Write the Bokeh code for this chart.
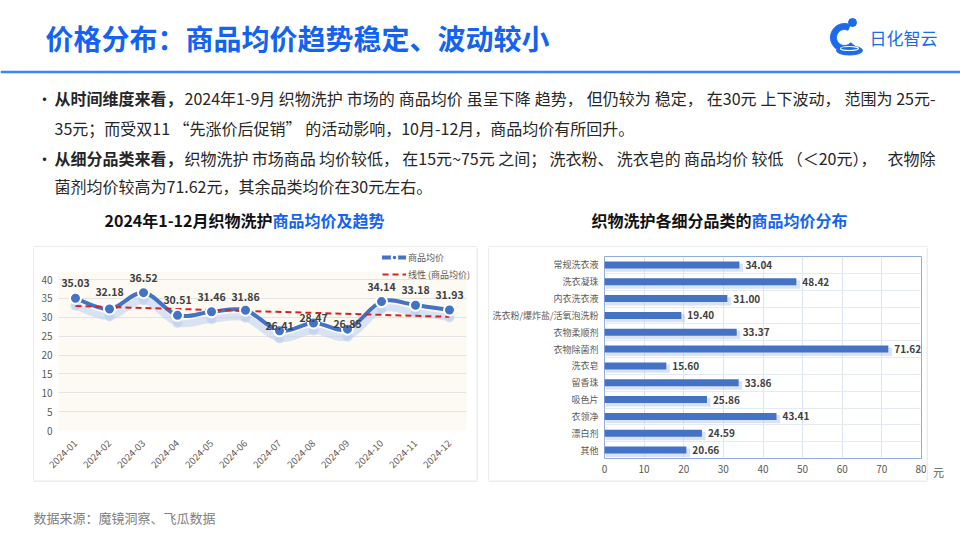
import numpy as np
from bokeh.plotting import figure
from bokeh.models import (Range1d, FixedTicker, ColumnDataSource, LabelSet, Legend,
                          LegendItem, FactorRange, BoxAnnotation)
from bokeh.layouts import column, row
from bokeh.transform import dodge
from bokeh.core.properties import value
from bokeh.embed import file_html
from bokeh.resources import INLINE

# ---------------- data ----------------
months = ["2024-01", "2024-02", "2024-03", "2024-04", "2024-05", "2024-06",
          "2024-07", "2024-08", "2024-09", "2024-10", "2024-11", "2024-12"]
avg_price = [35.03, 32.18, 36.52, 30.51, 31.46, 31.86, 26.41, 28.47, 26.85, 34.14, 33.18, 31.93]
price_ticks = [0, 5, 10, 15, 20, 25, 30, 35, 40]

categories = ["常规洗衣液", "洗衣凝珠", "内衣洗衣液", "洗衣粉/爆炸盐/活氧泡洗粉", "衣物柔顺剂",
              "衣物除菌剂", "洗衣皂", "留香珠", "吸色片", "衣领净", "漂白剂", "其他"]
cat_price = [34.04, 48.42, 31.00, 19.40, 33.37, 71.62, 15.60, 33.86, 25.86, 43.41, 24.59, 20.66]
bar_ticks = [0, 10, 20, 30, 40, 50, 60, 70, 80]

FONT = "Noto Sans CJK SC"
BLUE = "#4472C4"
TITLE_BLUE = "#1463F0"
LOGO_BLUE = "#1C6BEA"
BORDER = "#D9D9D9"
GRAY_TXT = "#595959"


def standalone(f):
    """No title and no frame alignment with neighbouring plots."""
    try:
        f.title = None
    except Exception:
        pass
    try:
        f.frame_align = False
    except Exception:
        pass
    return f


def txt(p, x, y, s, size, color, bold=False, align="left", baseline="middle"):
    p.text(x=[x], y=[y], text=[s], text_font=value(FONT), text_font_size=f"{size}px",
           text_color=color, text_font_style="bold" if bold else "normal",
           text_align=align, text_baseline=baseline)


def char_w(c, fs):
    if c in "0123456789":
        return 0.55 * fs
    if c == ".":
        return 0.27 * fs
    if c == "-":
        return 0.34 * fs
    if c == " ":
        return 0.23 * fs
    if c == "~":
        return 0.6 * fs
    return fs


def seg_w(s, fs):
    return sum(char_w(c, fs) for c in s)


def justified(p, x0, x1, y, segments, fs, color):
    """Spread a line over x0..x1 like justified text (space shared between pieces)."""
    nat = sum(seg_w(s, fs) for s in segments)
    gaps = len(segments) - 1
    extra = (x1 - x0 - nat) / gaps
    x = x0
    for k, s in enumerate(segments):
        if k == len(segments) - 1:
            txt(p, x1, y, s, fs, color, align="right")
        else:
            txt(p, x, y, s, fs, color)
        x += seg_w(s, fs) + extra


def deco(width, height, x0, y0):
    f = figure(width=width, height=height, x_range=Range1d(x0, x0 + width),
               y_range=Range1d(y0 + height, y0), x_axis_type=None, y_axis_type=None,
               toolbar_location=None, output_backend="svg", min_border=0,
               outline_line_color=None, background_fill_color="white",
               border_fill_color="white")
    return standalone(f)


def style_axis(ax, size, standoff):
    ax.axis_line_color = None
    ax.major_tick_line_color = None
    ax.minor_tick_line_color = None
    ax.major_tick_out = 0
    ax.major_tick_in = 0
    ax.minor_tick_out = 0
    ax.minor_tick_in = 0
    ax.major_label_text_font = FONT
    ax.major_label_text_color = GRAY_TXT
    ax.major_label_text_font_size = f"{size}px"
    ax.major_label_standoff = standoff


# ---------------- header ----------------
header = deco(960, 247, 0, 0)
txt(header, 45, 37, "价格分布：商品均价趋势稳定、波动较小", 28, TITLE_BLUE, bold=True)
header.line([0, 960], [71.5, 71.5], line_color="#3F83F7", line_width=2.5)

# logo
cx, cy = 844, 37
ang = np.linspace(np.radians(65), np.radians(320), 40)
ring_x = list(cx + 14 * np.cos(ang)) + list(cx + 8 * np.cos(ang[::-1]))
ring_y = list(cy - 14 * np.sin(ang)) + list(cy - 8 * np.sin(ang[::-1]))
header.patch(ring_x, ring_y, color=LOGO_BLUE)
header.scatter(x=[852], y=[22], size=8, color=LOGO_BLUE)
header.ellipse(x=[849], y=[50], width=26, height=9, color=LOGO_BLUE)
header.ellipse(x=[849], y=[48], width=18, height=4, fill_color=None, line_color="white",
               line_width=1.2)
txt(header, 869, 37, "日化智云", 17, LOGO_BLUE)

# bullets
FS = 16
TXT = "#262626"
X0, X1 = 54, 935
for yb in (97, 157):
    txt(header, 36, yb, "•", 16, TXT)
txt(header, X0, 97, "从时间维度来看，", FS, TXT, bold=True)
justified(header, X0 + 8 * FS + 2, X1, 97,
          ["2024年1-9月", "织物洗护", "市场的", "商品均价", "虽呈下降", "趋势，", "但仍较为",
           "稳定，", "在30元", "上下波动，", "范围为", "25元-"], FS, TXT)
txt(header, X0, 127, "35元；而受双11 “先涨价后促销” 的活动影响，10月-12月，商品均价有所回升。", FS, TXT)
txt(header, X0, 157, "从细分品类来看，", FS, TXT, bold=True)
justified(header, X0 + 8 * FS + 2, X1, 157,
          ["织物洗护", "市场商品", "均价较低，", "在15元~75元", "之间；", "洗衣粉、", "洗衣皂的",
           "商品均价", "较低", "（＜20元），", "衣物除"], FS, TXT)
txt(header, X0, 185, "菌剂均价较高为71.62元，其余品类均价在30元左右。", FS, TXT)

# chart titles
txt(header, 272, 219, "2024年1-12月织物洗护", 16, "#111111", bold=True, align="right")
txt(header, 272, 219, "商品均价及趋势", 16, TITLE_BLUE, bold=True)
txt(header, 751, 219, "织物洗护各细分品类的", 16, "#111111", bold=True, align="right")
txt(header, 751, 219, "商品均价分布", 16, TITLE_BLUE, bold=True)

# top edges of chart boxes
header.segment(x0=[33, 488], y0=[246.5, 246.5], x1=[477, 927], y1=[246.5, 246.5],
               line_color=BORDER, line_width=1)

# ---------------- left chart: line ----------------
xs = list(range(len(months)))
PX_PER_UNIT = (430 - 279) / 40.0
lp = figure(width=442, height=233,
            x_range=Range1d(-0.5, 11.5 + 10 / 34),
            y_range=Range1d(0, (430 - 248) / PX_PER_UNIT),
            output_backend="svg", toolbar_location=None,
            min_border_left=24, min_border_right=0, min_border_top=1, min_border_bottom=50)
standalone(lp)
lp.background_fill_color = "#FCFAF3"
lp.border_fill_color = "white"
lp.outline_line_color = None
shadow_shift = 2.0
lp.extra_y_ranges = {"shadow": Range1d(shadow_shift, lp.y_range.end + shadow_shift)}

lp.yaxis.ticker = FixedTicker(ticks=price_ticks)
lp.xaxis.ticker = FixedTicker(ticks=xs)
lp.xaxis.major_label_overrides = {i: m for i, m in zip(xs, months)}
lp.xaxis.major_label_orientation = np.pi / 4
style_axis(lp.yaxis[0], 10, 6)
style_axis(lp.xaxis[0], 9.5, 11)
lp.xgrid.grid_line_color = None
lp.ygrid.ticker = FixedTicker(ticks=price_ticks)
lp.ygrid.grid_line_color = "#E4E4E4"
# plot area ends a little above 40 and at the last month; outside stays white
lp.add_layout(BoxAnnotation(bottom=41.9, fill_color="white", fill_alpha=1,
                            line_color=None, level="underlay"))
lp.add_layout(BoxAnnotation(left=11.5, fill_color="white", fill_alpha=1,
                            line_color=None, level="underlay"))

# smooth curve (Catmull-Rom -> cubic bezier) through the monthly values
P = np.array(avg_price, dtype=float)
X = np.array(xs, dtype=float)
Pm = np.concatenate([[P[0]], P, [P[-1]]])
Xm = np.concatenate([[X[0]], X, [X[-1]]])
seg = dict(x0=[], y0=[], x1=[], y1=[], cx0=[], cy0=[], cx1=[], cy1=[])
for i in range(len(P) - 1):
    j = i + 1
    seg["x0"].append(X[i]); seg["y0"].append(P[i])
    seg["x1"].append(X[i + 1]); seg["y1"].append(P[i + 1])
    seg["cx0"].append(X[i] + (Xm[j + 1] - Xm[j - 1]) / 6)
    seg["cy0"].append(P[i] + (Pm[j + 1] - Pm[j - 1]) / 6)
    seg["cx1"].append(X[i + 1] - (Xm[j + 2] - Xm[j]) / 6)
    seg["cy1"].append(P[i + 1] - (Pm[j + 2] - Pm[j]) / 6)
seg_src = ColumnDataSource(seg)

lp.bezier(x0="x0", y0="y0", x1="x1", y1="y1", cx0="cx0", cy0="cy0", cx1="cx1", cy1="cy1",
          source=seg_src, line_color="#B9CDF0", line_alpha=0.55, line_width=7,
          y_range_name="shadow", line_cap="round")
lp.scatter(x=xs, y=avg_price, size=10, fill_color="#C3D3F0", line_color=None,
           fill_alpha=0.7, y_range_name="shadow")
curve = lp.bezier(x0="x0", y0="y0", x1="x1", y1="y1", cx0="cx0", cy0="cy0", cx1="cx1",
                  cy1="cy1", source=seg_src, line_color=BLUE, line_width=4, line_cap="round")

slope, icpt = np.polyfit(X, P, 1)
trend = lp.line(x=[X[0], X[-1]], y=[icpt + slope * X[0], icpt + slope * X[-1]],
                line_color="#D92121", line_width=2, line_dash="6 4")
pts = lp.scatter(x=xs, y=avg_price, size=11, fill_color=BLUE, line_color="white", line_width=2)

label_offsets = [15, 17, 15, 15, 15, 13, 5, 5, 5, 15, 15, 15]
lsrc = ColumnDataSource(dict(x=xs, y=avg_price, t=[f"{v:.2f}" for v in avg_price],
                             off=label_offsets))
lp.add_layout(LabelSet(x="x", y="y", text="t", source=lsrc, y_offset="off",
                       text_align="center", text_baseline="middle",
                       text_font=value(FONT), text_font_size="10.5px",
                       text_font_style="bold", text_color="#404040"))

legend = Legend(items=[LegendItem(label="商品均价", renderers=[curve, pts]),
                       LegendItem(label="线性 (商品均价)", renderers=[trend])],
                location=(324, 149), background_fill_alpha=0, border_line_color=None,
                padding=0, margin=0, spacing=3, glyph_width=24, glyph_height=14,
                label_height=14, label_standoff=2, label_text_font=FONT,
                label_text_font_size="9px", label_text_color=GRAY_TXT)
lp.add_layout(legend)

# ---------------- right chart: bars ----------------
cats_rev = categories[::-1]
rp = figure(width=437, height=233, y_range=FactorRange(factors=cats_rev), x_range=Range1d(0, 80),
            output_backend="svg", toolbar_location=None,
            min_border_left=115, min_border_right=5, min_border_top=9, min_border_bottom=22)
standalone(rp)
rp.background_fill_color = "white"
rp.border_fill_color = "white"
rp.outline_line_color = "#8FAADC"
rsrc = ColumnDataSource(dict(cat=categories, val=cat_price,
                             t=[f"{v:.2f}" for v in cat_price]))
rp.hbar(y=dodge("cat", -0.16, range=rp.y_range), left=0.3, right=dodge("val", 0.9),
        height=0.5, fill_color="#B4C7E7", fill_alpha=0.5, line_color=None, source=rsrc)
rp.hbar(y="cat", left=0, right="val", height=0.42, fill_color=BLUE, line_color=None, source=rsrc)
rp.add_layout(LabelSet(x="val", y="cat", text="t", source=rsrc, x_offset=6,
                       text_align="left", text_baseline="middle",
                       text_font=value(FONT), text_font_size="10px",
                       text_font_style="bold", text_color="#404040"))
rp.xaxis.ticker = FixedTicker(ticks=bar_ticks)
rp.xgrid.ticker = FixedTicker(ticks=bar_ticks)
rp.xgrid.grid_line_color = "#DCE4F2"
# category separators (between bars)
rp.ygrid.ticker = FixedTicker(ticks=list(range(len(categories) + 1)))
rp.ygrid.grid_line_color = "#E3E9F5"
style_axis(rp.xaxis[0], 10, 6)
style_axis(rp.yaxis[0], 9, 6)

# ---------------- box sides ----------------
H = 233
sideL = deco(34, H, 0, 247)
sideL.segment(x0=[33.5], y0=[247], x1=[33.5], y1=[480], line_color=BORDER, line_width=1)
gap = deco(13, H, 476, 247)
gap.segment(x0=[476.5, 488.5], y0=[247, 247], x1=[476.5, 488.5], y1=[480, 480],
            line_color=BORDER, line_width=1)
sideR = deco(34, H, 926, 247)
sideR.segment(x0=[926.5], y0=[247], x1=[926.5], y1=[480], line_color=BORDER, line_width=1)
txt(sideR, 938, 471, "元", 11, GRAY_TXT, align="center")

# ---------------- footer ----------------
footer = deco(960, 60, 0, 480)
footer.segment(x0=[33, 488], y0=[480.5, 480.5], x1=[477, 927], y1=[480.5, 480.5],
               line_color=BORDER, line_width=1)
txt(footer, 33, 517, "数据来源：魔镜洞察、飞瓜数据", 13, "#808080")

page = column(header, row(sideL, lp, gap, rp, sideR), footer)
open("out.html", "w").write(file_html(page, INLINE))
